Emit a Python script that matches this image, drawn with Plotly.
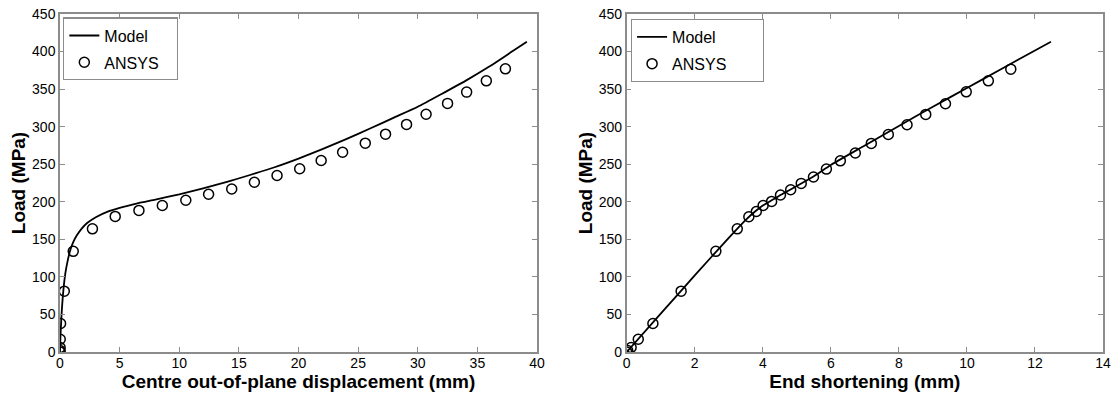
import plotly.graph_objects as go

# ---- Left panel: centre out-of-plane displacement ----
model_disp = [0, 0.05, 0.15, 0.3, 0.45, 0.65, 0.85, 1.1, 1.4, 1.8, 2.3, 3.0, 4.0, 5.0, 6.5, 8.0,
              10, 12, 14, 16, 18, 20, 22, 24, 26, 28, 30, 32, 34, 36, 38, 39.15]
model_disp_load = [0, 25, 55, 85, 105, 122, 135, 146, 155, 164, 172, 179.5, 187, 192, 198, 203,
                   210, 218, 226.5, 236, 246, 257.5, 270, 283.5, 297.5, 312, 326.5, 343.5, 361, 380, 401, 413]

ansys_disp = [0, 0, 0.01, 0.02, 0.05, 0.36, 1.11, 2.72, 4.63, 6.62, 8.58, 10.55, 12.46, 14.4,
              16.3, 18.2, 20.1, 21.9, 23.7, 25.6, 27.3, 29.06, 30.7, 32.5, 34.1, 35.75, 37.35]
ansys_disp_load = [0, 2, 6, 17, 38, 81, 134, 164, 180.5, 188.5, 195, 202, 210, 217,
                   226, 235, 244, 255, 266, 278, 290, 303, 316.6, 331, 346, 361, 377]

# ---- Right panel: end shortening ----
model_short = [0, 1, 2, 3, 3.5, 3.8, 4.0, 4.3, 4.6, 5.0, 5.5, 6, 7, 8, 9, 10, 11, 12, 12.47]
model_short_load = [0, 51, 102, 152, 176, 188, 195, 203, 211, 221, 234, 249, 275, 301, 326.5,
                    351.5, 376.5, 401.5, 413]

ansys_short = [0, 0.03, 0.13, 0.34, 0.77, 1.6, 2.62, 3.25, 3.59, 3.81, 4.01, 4.26, 4.52, 4.82,
               5.13, 5.49, 5.87, 6.28, 6.72, 7.19, 7.69, 8.24, 8.79, 9.37, 9.98, 10.63, 11.29]
ansys_short_load = [0, 2, 6, 17, 38, 81, 134, 164, 180, 187, 195, 200.5, 209, 216,
                    224.5, 233, 243.5, 254.5, 265, 277.7, 289.6, 302.5, 316.3, 330.5, 346.4, 361, 376.6]

x1_ticks = [0, 5, 10, 15, 20, 25, 30, 35, 40]
x2_ticks = [0, 2, 4, 6, 8, 10, 12, 14]
y_ticks = [0, 50, 100, 150, 200, 250, 300, 350, 400, 450]

x1_title = "Centre out-of-plane displacement (mm)"
x2_title = "End shortening (mm)"
y_title = "Load (MPa)"
series_names = ["Model", "ANSYS"]

FONT = "Liberation Sans, Arial, sans-serif"
AX_COL = "#8c8c8c"
NBSP = "\u00a0"
ZW = "\u200b"

fig = go.Figure()

line_style = dict(color="black", width=1.8, shape="spline", smoothing=0.6)
marker_style = dict(symbol="circle-open", size=10, color="black", line=dict(width=1.5, color="black"))

fig.add_trace(go.Scatter(x=model_disp, y=model_disp_load, mode="lines", name=series_names[0],
                         line=line_style, xaxis="x", yaxis="y", legend="legend",
                         legendgroup="m1"))
fig.add_trace(go.Scatter(x=ansys_disp, y=ansys_disp_load, mode="markers",
                         name=series_names[1] + NBSP * 3 + ZW,
                         marker=marker_style, xaxis="x", yaxis="y", legend="legend",
                         legendgroup="a1"))
fig.add_trace(go.Scatter(x=model_short, y=model_short_load, mode="lines", name=series_names[0],
                         line=line_style, xaxis="x2", yaxis="y2", legend="legend2",
                         legendgroup="m2"))
fig.add_trace(go.Scatter(x=ansys_short, y=ansys_short_load, mode="markers",
                         name=series_names[1] + NBSP * 7 + ZW,
                         marker=marker_style, xaxis="x2", yaxis="y2", legend="legend2",
                         legendgroup="a2"))

L, R, T, B = 60, 14, 14, 42
W, H = 1117, 394
pw = W - L - R
x1_dom = [0, (537 - L) / pw]
x2_dom = [(626.7 - L) / pw, 1]

axis_common = dict(
    showline=True, linecolor=AX_COL, linewidth=1.5, mirror="ticks",
    ticks="inside", ticklen=5, tickwidth=1, tickcolor=AX_COL,
    showgrid=False, zeroline=False, automargin=False,
    tickfont=dict(family=FONT, size=14, color="black"),
)
x_extra = dict(ticklabelstandoff=-3)

title_font = dict(family=FONT, size=19, color="black")

legend_common = dict(
    xanchor="left", yanchor="top",
    bgcolor="white", bordercolor=AX_COL, borderwidth=1.2,
    font=dict(family=FONT, size=16, color="black"),
    traceorder="grouped", tracegroupgap=3, itemwidth=30,
)

fig.update_layout(
    width=W, height=H,
    margin=dict(l=L, r=R, t=T, b=B),
    paper_bgcolor="white", plot_bgcolor="white",
    font=dict(family=FONT, color="black"),
    xaxis=dict(domain=x1_dom, range=[0, 40], tickvals=x1_ticks, anchor="y",
               title=dict(text="<b>" + x1_title + "</b>", font=title_font, standoff=0),
               **axis_common, **x_extra),
    yaxis=dict(domain=[0, 1], range=[0, 450], tickvals=y_ticks, anchor="x",
               title=dict(text="<b>" + y_title + "</b>", font=title_font, standoff=1),
               **axis_common),
    xaxis2=dict(domain=x2_dom, range=[0, 14], tickvals=x2_ticks, anchor="y2",
                title=dict(text="<b>" + x2_title + "</b>", font=title_font, standoff=0),
                **axis_common, **x_extra),
    yaxis2=dict(domain=[0, 1], range=[0, 450], tickvals=y_ticks, anchor="x2",
                title=dict(text="<b>" + y_title + "</b>", font=title_font, standoff=1),
                **axis_common),
    legend=dict(x=0.003, y=0.99, **legend_common),
    legend2=dict(x=x2_dom[0] + 0.004, y=0.986, **legend_common),
    showlegend=True,
)

fig.write_html("out.html", config={"displayModeBar": False},
               post_script="document.body.style.margin='0';document.body.style.overflow='hidden';")
